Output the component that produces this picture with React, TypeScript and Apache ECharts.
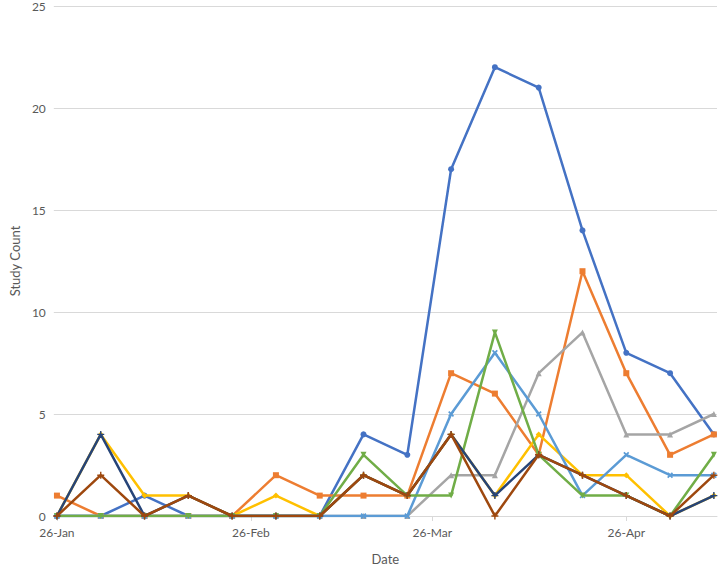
import React, { useEffect, useRef } from "react";
import * as echarts from "echarts";

const weekDates = [
  "2020-01-26", "2020-02-02", "2020-02-09", "2020-02-16", "2020-02-23", "2020-03-01",
  "2020-03-08", "2020-03-15", "2020-03-22", "2020-03-29", "2020-04-05", "2020-04-12",
  "2020-04-19", "2020-04-26", "2020-05-03", "2020-05-10",
];
const tickDates = ["2020-01-26", "2020-02-26", "2020-03-26", "2020-04-26"];
const monthNames = ["Jan", "Feb", "Mar", "Apr", "May", "Jun", "Jul", "Aug", "Sep", "Oct", "Nov", "Dec"];

const s1 = [0, 0, 1, 0, 0, 0, 0, 4, 3, 17, 22, 21, 14, 8, 7, 4];
const s2 = [1, 0, 0, 0, 0, 2, 1, 1, 1, 7, 6, 3, 12, 7, 3, 4];
const s3 = [0, 0, 0, 0, 0, 0, 0, 0, 0, 2, 2, 7, 9, 4, 4, 5];
const s4 = [0, 4, 1, 1, 0, 1, 0, 2, 1, 4, 1, 4, 2, 2, 0, 1];
const s5 = [0, 0, 0, 0, 0, 0, 0, 0, 0, 5, 8, 5, 1, 3, 2, 2];
const s6 = [0, 0, 0, 0, 0, 0, 0, 3, 1, 1, 9, 3, 1, 1, 0, 3];
const s7 = [0, 4, 0, 1, 0, 0, 0, 2, 1, 4, 1, 3, 2, 1, 0, 1];
const s8 = [0, 2, 0, 1, 0, 0, 0, 2, 1, 4, 0, 3, 2, 1, 0, 2];

const seriesNames = ["Series 1", "Series 2", "Series 3", "Series 4", "Series 5", "Series 6", "Series 7", "Series 8"];
const seriesValues = [s1, s2, s3, s4, s5, s6, s7, s8];
const colors = ["#4472C4", "#ED7D31", "#A5A5A5", "#FFC000", "#5B9BD5", "#70AD47", "#264478", "#9E480E"];

const X_PATH = "path://M2,0 L5,3 L8,0 L10,2 L7,5 L10,8 L8,10 L5,7 L2,10 L0,8 L3,5 L0,2 Z";
const PLUS_PATH = "path://M4,0H6V4H10V6H6V10H4V6H0V4H4Z";
const symbols: any[] = ["circle", "rect", "triangle", "diamond", X_PATH, "triangle", PLUS_PATH, PLUS_PATH];
const symbolSizes = [6, 6, 6, 6, 6, 6, 7, 7];
const symbolRotates = [0, 0, 0, 0, 0, 180, 0, 0];

const DAY = 86400000;
const origin = Date.UTC(2020, 0, 26);
const toDay = (s: string) => {
  const [y, m, d] = s.split("-").map(Number);
  return Math.round((Date.UTC(y, m - 1, d) - origin) / DAY);
};
const tickDays = tickDates.map(toDay);
const labelFor = (day: number) => {
  const dt = new Date(origin + day * DAY);
  return `${dt.getUTCDate()}-${monthNames[dt.getUTCMonth()]}`;
};

const FONT = "Lato, 'Open Sans', sans-serif";

export default function App() {
  const ref = useRef<HTMLDivElement>(null);
  useEffect(() => {
    if (!ref.current) return;
    const chart = echarts.init(ref.current, undefined, { renderer: "svg" });
    const days = weekDates.map(toDay);
    chart.setOption({
      animation: false,
      backgroundColor: "#ffffff",
      grid: { left: 44, right: 3, top: 6, bottom: 44, containLabel: false },
      xAxis: {
        type: "value",
        min: -0.5,
        max: days[days.length - 1] + 0.5,
        name: "Date",
        nameLocation: "middle",
        nameGap: 36,
        nameTextStyle: { fontFamily: FONT, fontSize: 13, color: "#595959" },
        axisLine: { show: true, lineStyle: { color: "#D9D9D9", width: 1 } },
        axisTick: { show: true, length: 5, customValues: tickDays, lineStyle: { color: "#D9D9D9" } },
        axisLabel: {
          customValues: tickDays,
          formatter: (v: number) => labelFor(v),
          fontFamily: FONT,
          fontSize: 12,
          color: "#595959",
          margin: 10,
        },
        splitLine: { show: false },
      },
      yAxis: {
        type: "value",
        min: 0,
        max: 25,
        interval: 5,
        name: "Study Count",
        nameLocation: "middle",
        nameGap: 32,
        nameTextStyle: { fontFamily: FONT, fontSize: 13, color: "#595959" },
        axisLine: { show: false },
        axisTick: { show: false },
        axisLabel: { fontFamily: FONT, fontSize: 12, color: "#595959", margin: 8 },
        splitLine: { show: true, lineStyle: { color: "#D9D9D9", width: 1 } },
      },
      series: seriesValues.map((vals, i) => ({
        name: seriesNames[i],
        type: "line",
        data: vals.map((v, j) => [days[j], v]),
        symbol: symbols[i],
        symbolSize: symbolSizes[i],
        symbolRotate: symbolRotates[i],
        showAllSymbol: true,
        lineStyle: { color: colors[i], width: 2.5 },
        itemStyle: { color: colors[i] },
        z: 2 + i,
      })),
    });
    return () => chart.dispose();
  }, []);
  return (
    <div
      ref={ref}
      style={{ position: "fixed", left: 0, top: 0, width: 720, height: 570 }}
    />
  );
}
